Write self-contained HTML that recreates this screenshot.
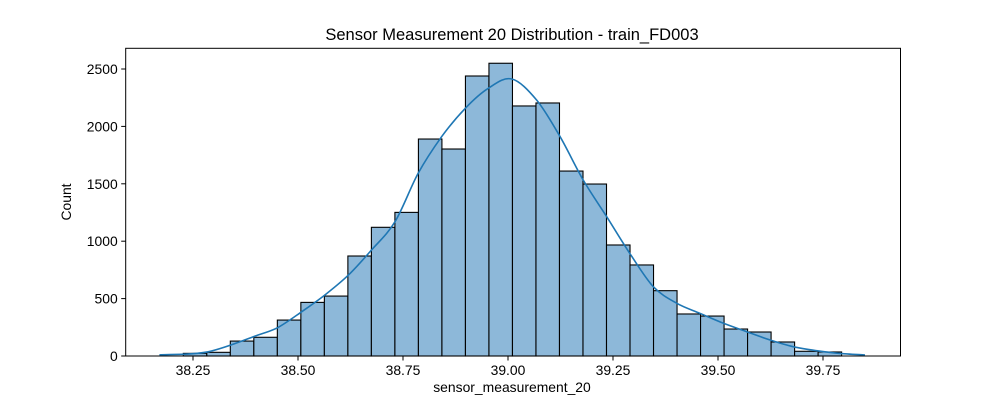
<!DOCTYPE html>
<html><head><meta charset="utf-8"><style>
body{margin:0;background:#fff;}
svg{display:block;font-family:"Liberation Sans","DejaVu Sans",sans-serif;}
</style></head><body>
<svg id="chart" width="1000" height="400" viewBox="0 0 1000 400">
<rect width="1000" height="400" fill="#fff"/>
<text x="512" y="40" text-anchor="middle" font-size="16.5" fill="#000">Sensor Measurement 20 Distribution - train_FD003</text>
<g id="bars"></g>
<g id="kde"></g>
<g id="axes"></g>
<text x="512" y="392" text-anchor="middle" font-size="13.9" fill="#000">sensor_measurement_20</text>
<text transform="translate(71,202) rotate(-90)" text-anchor="middle" font-size="13.9" fill="#000">Count</text>
</svg>
<script>
const binStart = 38.2269;
const binWidth = 0.05598;
const counts = [23,32,130,163,313,467,522,871,1121,1251,1890,1803,2439,2550,2178,2204,1611,1498,967,793,569,366,348,235,209,122,41,35];
const kdeX = [38.170,38.286,38.405,38.453,38.509,38.564,38.620,38.675,38.731,38.786,38.842,38.898,38.953,39.009,39.068,39.124,39.179,39.235,39.290,39.346,39.402,39.457,39.513,39.568,39.624,39.679,39.735,39.790,39.850];
const kdeY = [10,37,183,250,386,531,705,923,1170,1591,1910,2157,2332,2413,2230,1910,1533,1213,894,604,459,372,285,212,139,81,46,23,9];
const xTicks = [38.25,38.50,38.75,39.00,39.25,39.50,39.75];
const xTickLabels = ["38.25","38.50","38.75","39.00","39.25","39.50","39.75"];
const yTicks = [0,500,1000,1500,2000,2500];
const yTickLabels = ["0","500","1000","1500","2000","2500"];

const L=125.7,R=900.5,T=48.3,B=356;
const xs = v => 508 + (v-39)*420;
const ys = c => B - c*0.1148;
const NS="http://www.w3.org/2000/svg";
function mk(tag,attrs,parent){const e=document.createElementNS(NS,tag);for(const k in attrs)e.setAttribute(k,attrs[k]);parent.appendChild(e);return e;}

const gb=document.getElementById('bars');
counts.forEach((c,i)=>{
  const x0=xs(binStart+i*binWidth), x1=xs(binStart+(i+1)*binWidth);
  const r=mk('rect',{x:x0,y:ys(c),width:x1-x0,height:B-ys(c),fill:'#8db8d9',stroke:'#000','stroke-width':1.1},gb);
  
  
});
const gk=document.getElementById('kde');
const pts=kdeX.map((v,i)=>[xs(v),ys(kdeY[i])]);
let d='M'+pts[0][0].toFixed(1)+','+pts[0][1].toFixed(1);
for(let i=0;i<pts.length-1;i++){
  const p0=pts[Math.max(0,i-1)],p1=pts[i],p2=pts[i+1],p3=pts[Math.min(pts.length-1,i+2)];
  const c1=[p1[0]+(p2[0]-p0[0])/6,p1[1]+(p2[1]-p0[1])/6];
  const c2=[p2[0]-(p3[0]-p1[0])/6,p2[1]-(p3[1]-p1[1])/6];
  d+='C'+c1[0].toFixed(1)+','+c1[1].toFixed(1)+' '+c2[0].toFixed(1)+','+c2[1].toFixed(1)+' '+p2[0].toFixed(1)+','+p2[1].toFixed(1);
}
const p=mk('path',{d:d,fill:'none',stroke:'#1f77b4','stroke-width':1.6,'stroke-linejoin':'round'},gk);



const ga=document.getElementById('axes');
const fr=mk('rect',{x:L,y:T,width:R-L,height:B-T,fill:'none',stroke:'#000','stroke-width':1},ga);


xTicks.forEach((v,i)=>{
  const x=xs(v);
  const t=mk('line',{x1:x,x2:x,y1:B,y2:B+4.5,stroke:'#000','stroke-width':1},ga);
  
  
  const tx=mk('text',{x:x,y:B+19,'text-anchor':'middle','font-size':13.9,fill:'#000'},ga);
  tx.textContent=xTickLabels[i];
  
  
});
yTicks.forEach((v,i)=>{
  const y=ys(v);
  const t=mk('line',{x1:L-4.5,x2:L,y1:y,y2:y,stroke:'#000','stroke-width':1},ga);
  
  
  const tx=mk('text',{x:L-8,y:y+5,'text-anchor':'end','font-size':13.9,fill:'#000'},ga);
  tx.textContent=yTickLabels[i];
  
  
});
</script>
</body></html>
